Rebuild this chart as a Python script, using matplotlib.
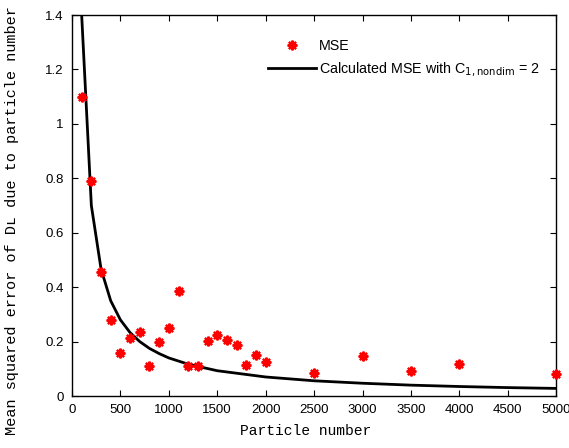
import matplotlib
matplotlib.use("Agg")
import matplotlib.pyplot as plt

# Data
particle_n = [100, 200, 300, 400, 500, 600, 700, 800, 900, 1000, 1100, 1200, 1300,
              1400, 1500, 1600, 1700, 1800, 1900, 2000, 2500, 3000, 3500, 4000, 5000]
mse = [1.099, 0.789, 0.456, 0.278, 0.159, 0.215, 0.235, 0.112, 0.199, 0.250, 0.385,
       0.112, 0.110, 0.201, 0.223, 0.205, 0.189, 0.114, 0.152, 0.126, 0.085, 0.147,
       0.092, 0.119, 0.082]
curve_n = [100, 200, 300, 400, 500, 600, 700, 800, 900, 1000, 1200, 1500, 2000,
           2500, 3000, 3500, 4000, 4500, 5000]
curve_mse = [1.40, 0.70, 0.467, 0.35, 0.28, 0.233, 0.20, 0.175, 0.156, 0.14, 0.117,
             0.093, 0.07, 0.056, 0.047, 0.04, 0.035, 0.031, 0.028]
xticks = [0, 500, 1000, 1500, 2000, 2500, 3000, 3500, 4000, 4500, 5000]
yticks = [0, 0.2, 0.4, 0.6, 0.8, 1.0, 1.2, 1.4]
ytick_labels = ["0", "0.2", "0.4", "0.6", "0.8", "1", "1.2", "1.4"]

plt.rcParams['font.family'] = ['Liberation Sans', 'DejaVu Sans']
fig = plt.figure(figsize=(5.69, 4.48), dpi=100)
ax = fig.add_axes([0.1265, 0.116, 0.851, 0.8505])

ax.plot(particle_n, mse, linestyle='none', marker=(8, 2, 0), markersize=7,
        markeredgewidth=1.6, color='#ff0000', label='MSE', clip_on=False, zorder=3)
ax.plot(curve_n, curve_mse, color='black', linewidth=2,
        label='Calculated MSE with C$_{\\mathrm{1,nondim}}$ = 2')

ax.set_xlim(0, 5000)
ax.set_ylim(0, 1.4)
ax.set_xticks(xticks)
ax.set_xticklabels([str(t) for t in xticks])
ax.set_yticks(yticks)
ax.set_yticklabels(ytick_labels)
ax.tick_params(direction='in', top=True, right=True, labelsize=9.5, length=4, pad=6)
for s in ax.spines.values():
    s.set_linewidth(1)

mono = ['Liberation Mono', 'DejaVu Sans Mono']
ax.set_xlabel('Particle number', family=mono, fontsize=10.5)
ax.xaxis.set_label_coords(0.483, -0.073)
ax.set_ylabel('Mean squared error of D\u029f due to particle number',
              family=mono, fontsize=11)
ax.yaxis.set_label_coords(-0.11, 0.46)

leg = ax.legend(loc='upper left', frameon=False, fontsize=10.3,
                bbox_to_anchor=(0.394, 0.952), borderaxespad=0,
                handlelength=3.3, handletextpad=0.25, labelspacing=0.5)

fig.savefig('out.png', dpi=100)
